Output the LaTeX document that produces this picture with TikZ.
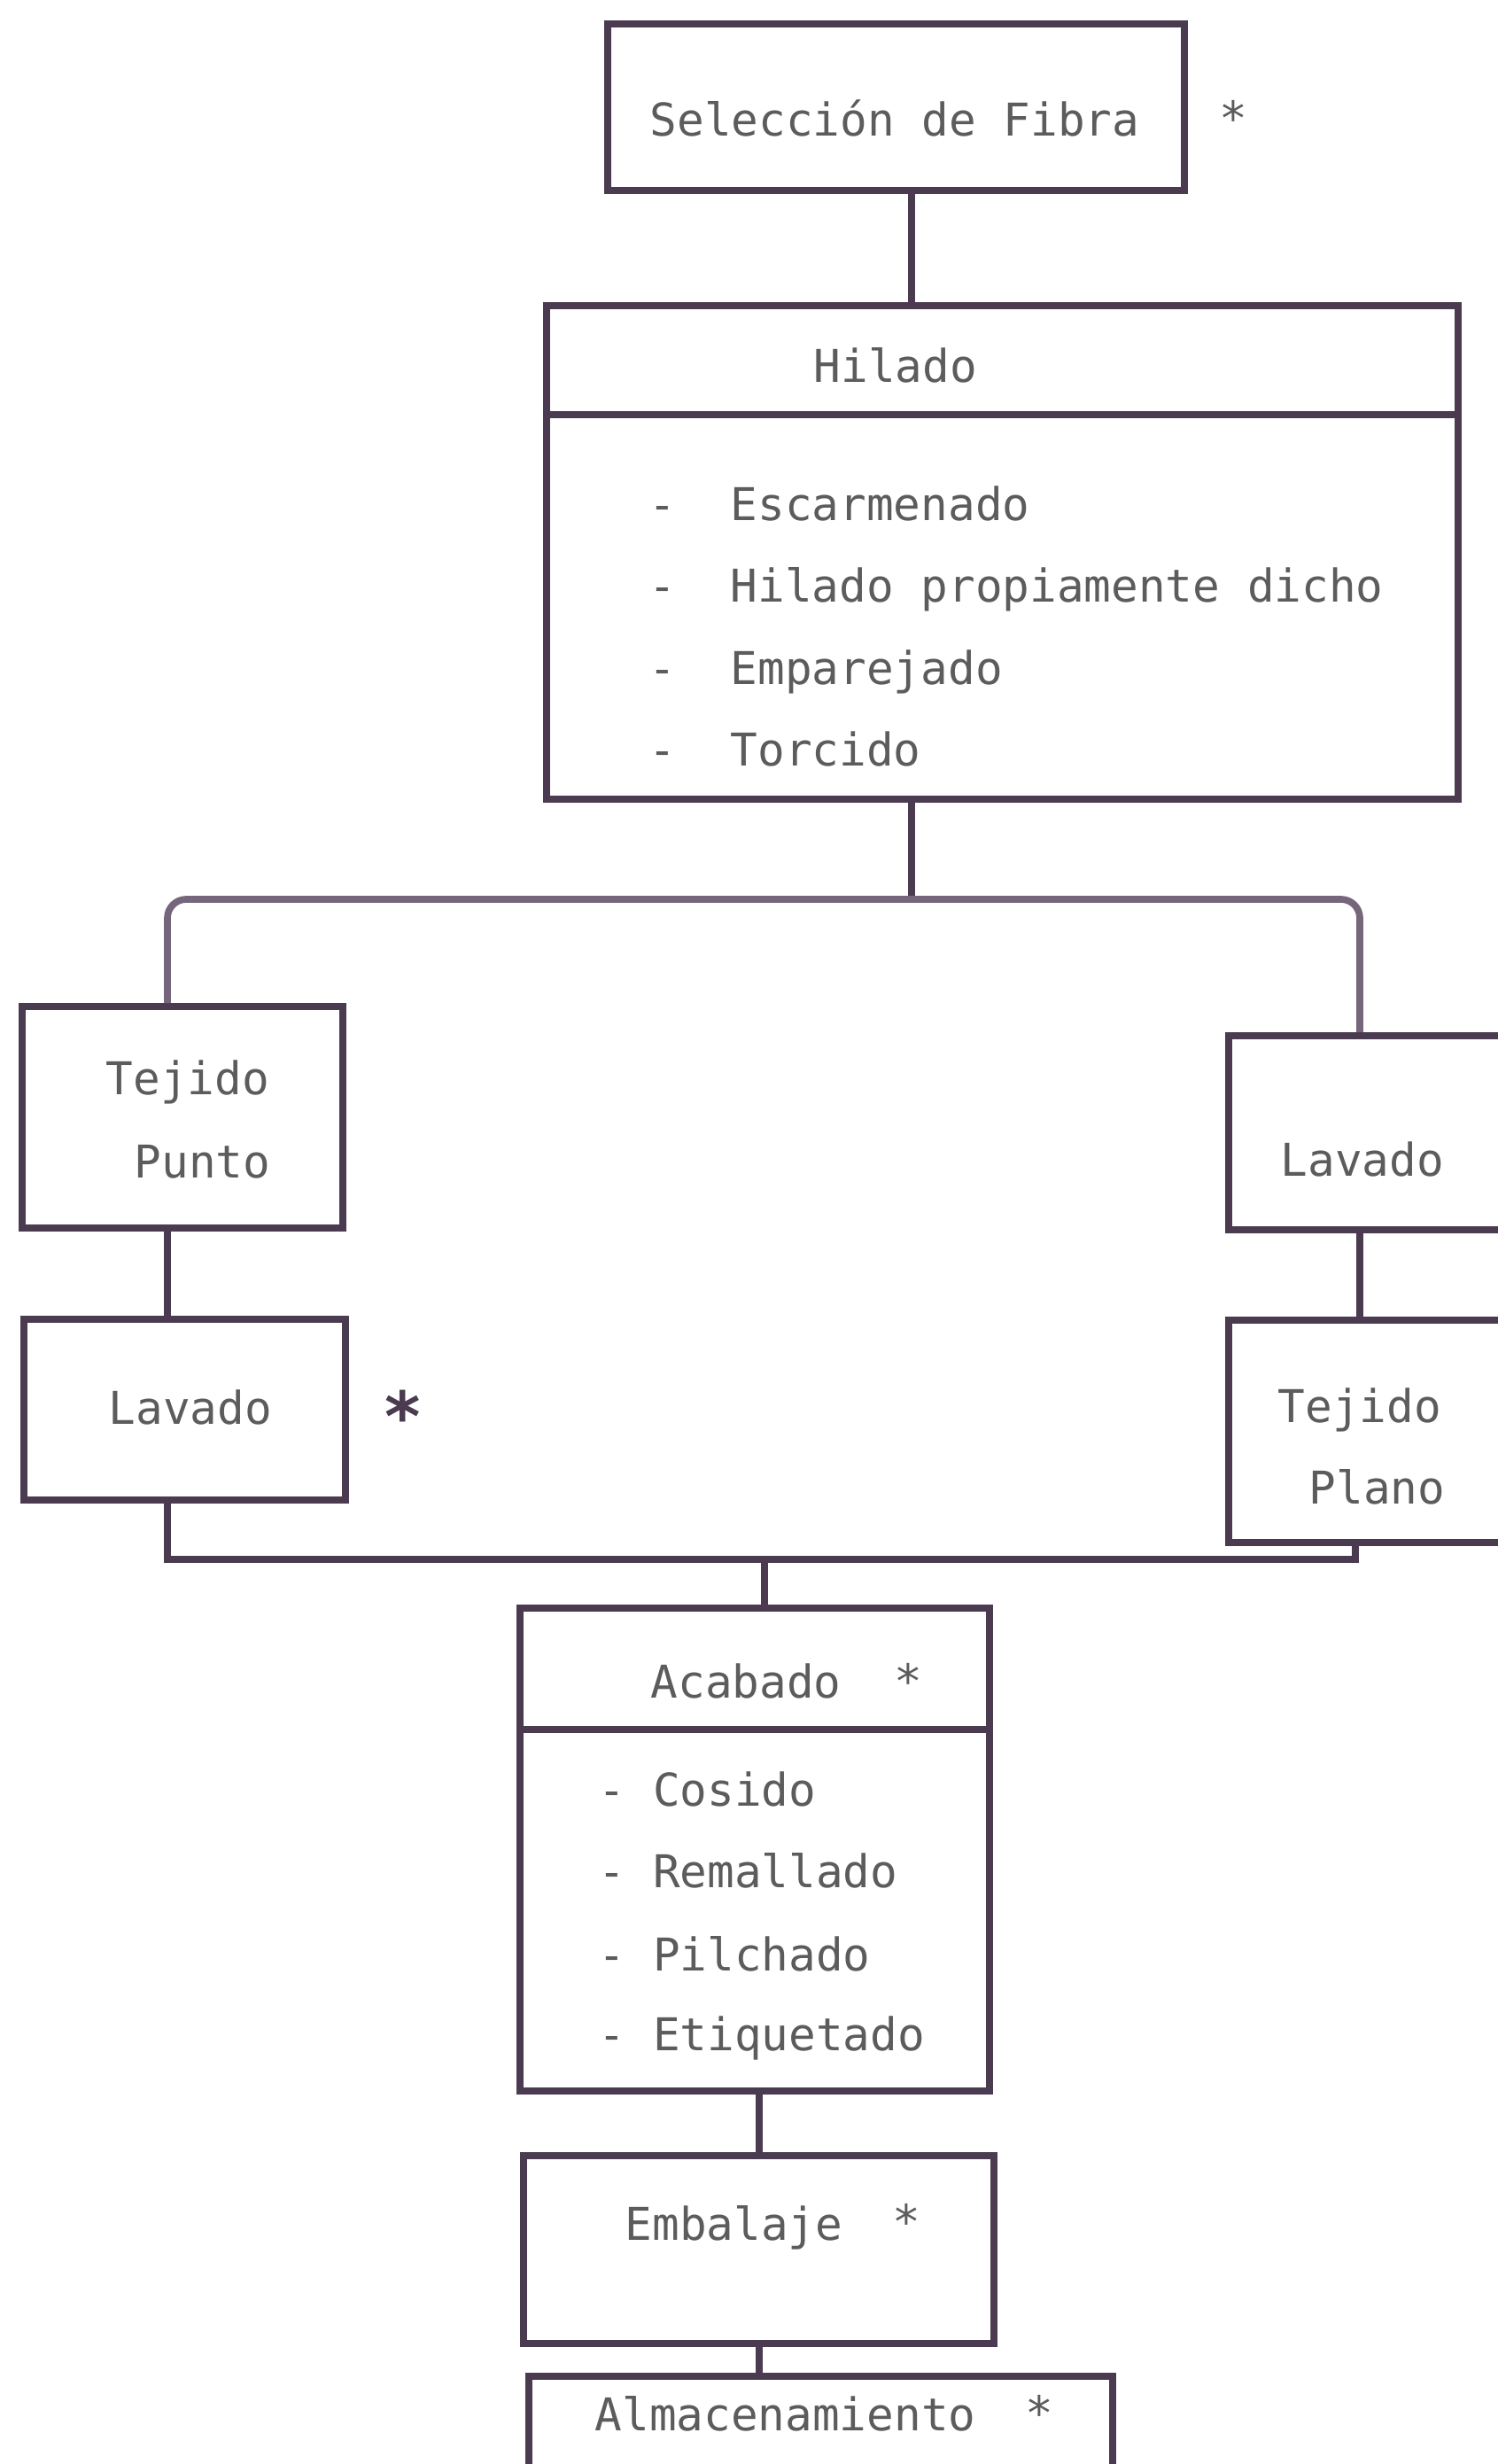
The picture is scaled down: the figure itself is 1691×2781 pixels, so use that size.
\documentclass[tikz,border=0pt]{standalone}
\usepackage{fontspec}
\newfontfamily\tw{DejaVu Sans Mono}
\definecolor{ln}{HTML}{4B3B50}
\definecolor{lnl}{HTML}{76667C}
\definecolor{tx}{HTML}{5C5C5C}
\tikzset{
    box/.style = {rectangle,
                  draw=ln,
                  fill=none,
                  line width=2.2pt,
                  inner sep=0pt},
    txt/.style = {anchor=base west,
                  inner sep=0pt,
                  text=tx,
                  font=\tw\fontsize{14.5pt}{17pt}\selectfont},
    ast/.style = {inner sep=0pt,
                  text=tx,
                  font=\tw\fontsize{15pt}{17pt}\selectfont},
    bus/.style = {draw=ln,
                  line width=2.2pt},
    -}

\begin{document}
\begin{tikzpicture}[x=0.01cm, y=-0.01cm]
    \useasboundingbox (0,0) rectangle (1691,2781);
    % cajas
    \node[box, minimum width=6.51cm,  minimum height=1.88cm] (sel)  at (1011.5,121)   {};
    \node[box, minimum width=10.29cm, minimum height=5.57cm] (hil)  at (1131.5,623.5) {};
    \node[box, minimum width=3.62cm,  minimum height=2.50cm] (tp)   at (206,1261)     {};
    \node[box, minimum width=3.63cm,  minimum height=2.04cm] (lavl) at (208.5,1591)   {};
    \node[box, minimum width=3.33cm,  minimum height=2.19cm] (lavr) at (1553.5,1278.5){};
    \node[box, minimum width=3.33cm,  minimum height=2.51cm] (tpl)  at (1553.5,1615.5){};
    \node[box, minimum width=5.30cm,  minimum height=5.45cm] (aca)  at (852,2087.5)   {};
    \node[box, minimum width=5.31cm,  minimum height=2.12cm] (emb)  at (856.5,2539)   {};
    \node[box, minimum width=6.59cm,  minimum height=1.48cm] (alm)  at (926.5,2756)   {};
    % divisiones
    \path (hil.north west) ++(0,127) coordinate (hd);
    \path (aca.north west) ++(0,141) coordinate (ad);
    \draw[bus] (hd) -- (hd -| hil.east);
    \draw[bus] (ad) -- (ad -| aca.east);
    % textos
    \node[txt] (t1) at (733,153)   {Selección de Fibra};
    \node[ast] (s1) at (1392,133)  {*};
    \node[txt] (t2) at (918,431)   {Hilado};
    \node[txt] (h1) at (732,587)   {-~~Escarmenado};
    \node[txt] (h2) at (732,679)   {-~~Hilado propiamente dicho};
    \node[txt] (h3) at (732,772)   {-~~Emparejado};
    \node[txt] (h4) at (732,864)   {-~~Torcido};
    \node[txt] (t3) at (119,1235)  {Tejido};
    \node[txt] (t4) at (151,1329)  {Punto};
    \node[txt] (t5) at (122,1607)  {Lavado};
    \node[ast, font=\tw\bfseries\fontsize{22pt}{22pt}\selectfont, text=ln] (s2) at (455,1598) {*};
    \node[txt] (t6) at (1445,1327) {Lavado};
    \node[txt] (t7) at (1442,1605) {Tejido};
    \node[txt] (t8) at (1477,1697) {Plano};
    \node[txt] (t9) at (734,1916)  {Acabado};
    \node[ast] (s3) at (1025,1897) {*};
    \node[txt] (a1) at (675,2038)  {-~Cosido};
    \node[txt] (a2) at (675,2130)  {-~Remallado};
    \node[txt] (a3) at (675,2224)  {-~Pilchado};
    \node[txt] (a4) at (675,2314)  {-~Etiquetado};
    \node[txt] (t10) at (705,2528) {Embalaje};
    \node[ast] (s4) at (1023,2507) {*};
    \node[txt] (t11) at (671,2743) {Almacenamiento};
    \node[ast] (s5) at (1173,2723) {*};
    % conexiones
    \coordinate (j1) at (1029,1015);
    \coordinate (bl) at (189,1015);
    \coordinate (br) at (1535,1015);
    \coordinate (cl) at (189,1760);
    \coordinate (cr) at (1530,1760);
    \coordinate (c2) at (863,1760);
    \coordinate (c3) at (857,2400);
    \path[bus] (j1 |- sel.south) edge (j1 |- hil.north)
               (j1 |- hil.south) edge (j1)
               (bl |- tp.south)  edge (bl |- lavl.north)
               (br |- lavr.south) edge (br |- tpl.north)
               (c2) edge (c2 |- aca.north)
               (c3 |- aca.south) edge (c3 |- emb.north)
               (c3 |- emb.south) edge (c3 |- alm.north);
    \draw[bus, draw=lnl, rounded corners=6] (bl |- tp.north) -- (bl) -- (br) -- (br |- lavr.north);
    \draw[bus] (cl |- lavl.south) -- (cl) -- (cr) -- (cr |- tpl.south);
\end{tikzpicture}
\end{document}
